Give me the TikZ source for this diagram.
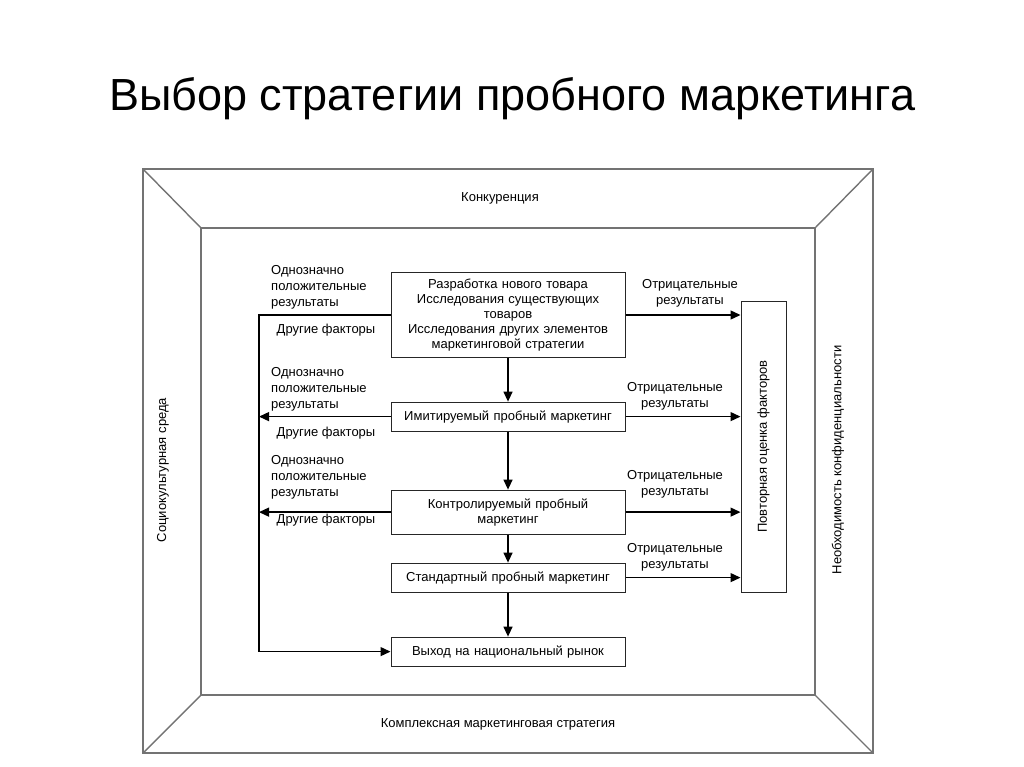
\documentclass[tikz,border=0pt]{standalone}
\usepackage{fontspec}
\setmainfont{Liberation Sans}
\usetikzlibrary{arrows.meta, positioning}
\tikzset{
	stage/.style={
		rectangle,
		minimum width=234pt,
		minimum height=29pt,
		text width=226pt,
		inner ysep=6pt,
		align=center,
		draw=black!85,
		line width=1pt,
		font=\fontsize{13}{15}\selectfont
	},
	review/.style={
		rectangle,
		minimum width=291pt,
		minimum height=45pt,
		draw=black!85,
		line width=1pt,
		font=\fontsize{13}{15}\selectfont
	},
	note/.style={
		inner sep=0pt,
		font=\fontsize{13}{16}\selectfont
	},
	arrow/.style={line width=1.3pt, -{Triangle[length=10pt, width=9pt]}},
	border/.style={draw=black!55, line width=1.4pt}
}

\begin{document}
\begin{tikzpicture}[x=1pt, y=-1pt]
	\useasboundingbox (0,0) rectangle (1024,767);
	\node (title) [font=\fontsize{45}{54}\selectfont] at (512,99) {Выбор стратегии пробного маркетинга};
	
	% frame
	\draw [border] (143,169) rectangle (873,753);
	\draw [border] (201,228) rectangle (815,695);
	\draw [border] (143,169) -- (201,228);
	\draw [border] (873,169) -- (815,228);
	\draw [border] (143,753) -- (201,695);
	\draw [border] (873,753) -- (815,695);
	\node (compet) [note] at (500,198) {Конкуренция};
	\node (complex) [note] at (498,724) {Комплексная маркетинговая стратегия};
	\node (social) [note, rotate=90] at (163,470) {Социокультурная среда};
	\node (secret) [note, rotate=90] at (838,460) {Необходимость конфиденциальности};
	
	% stages
	\node (develop) [stage] at (508,315) {Разработка нового товара\\Исследования существующих\\товаров\\Исследования других элементов\\маркетинговой стратегии};
	\node (imitate) [stage, below=44pt of develop] {Имитируемый пробный маркетинг};
	\node (control) [stage, minimum height=44pt, below=58pt of imitate] {Контролируемый пробный\\маркетинг};
	\node (standard) [stage, below=28pt of control] {Стандартный пробный маркетинг};
	\node (market) [stage, below=44pt of standard] {Выход на национальный рынок};
	\node (review) [review, rotate=90] at (763.5,446.5) {Повторная оценка факторов};
	\coordinate (bus) at (259,0);
	
	% labels
	\node (pos1) [note, anchor=north west, align=left] at (271,265) {Однозначно\\положительные\\результаты};
	\node (pos2) [note, anchor=north west, align=left] at (271,367) {Однозначно\\положительные\\результаты};
	\node (pos3) [note, anchor=north west, align=left] at (271,455) {Однозначно\\положительные\\результаты};
	\node (other1) [note] at (326,330) {Другие факторы};
	\node (other2) [note] at (326,433) {Другие факторы};
	\node (other3) [note] at (326,520) {Другие факторы};
	\node (neg1) [note, align=center] at (690,293) {Отрицательные\\результаты};
	\node (neg2) [note, align=center] at (675,396) {Отрицательные\\результаты};
	\node (neg3) [note, align=center] at (675,484) {Отрицательные\\результаты};
	\node (neg4) [note, align=center] at (675,557) {Отрицательные\\результаты};
	
	\draw [arrow] (develop) -- (imitate);
	\draw [arrow] (imitate) -- (control);
	\draw [arrow] (control) -- (standard);
	\draw [arrow] (standard) -- (market);
	\draw [arrow] (develop.west) -| (bus |- market.west) -- (market.west);
	\draw [arrow] (imitate.west) -- (imitate.west -| bus);
	\draw [arrow] (control.west) -- (control.west -| bus);
	\draw [arrow] (develop.east) -- (develop.east -| review.north);
	\draw [arrow] (imitate.east) -- (imitate.east -| review.north);
	\draw [arrow] (control.east) -- (control.east -| review.north);
	\draw [arrow] (standard.east) -- (standard.east -| review.north);
\end{tikzpicture}
\end{document}
